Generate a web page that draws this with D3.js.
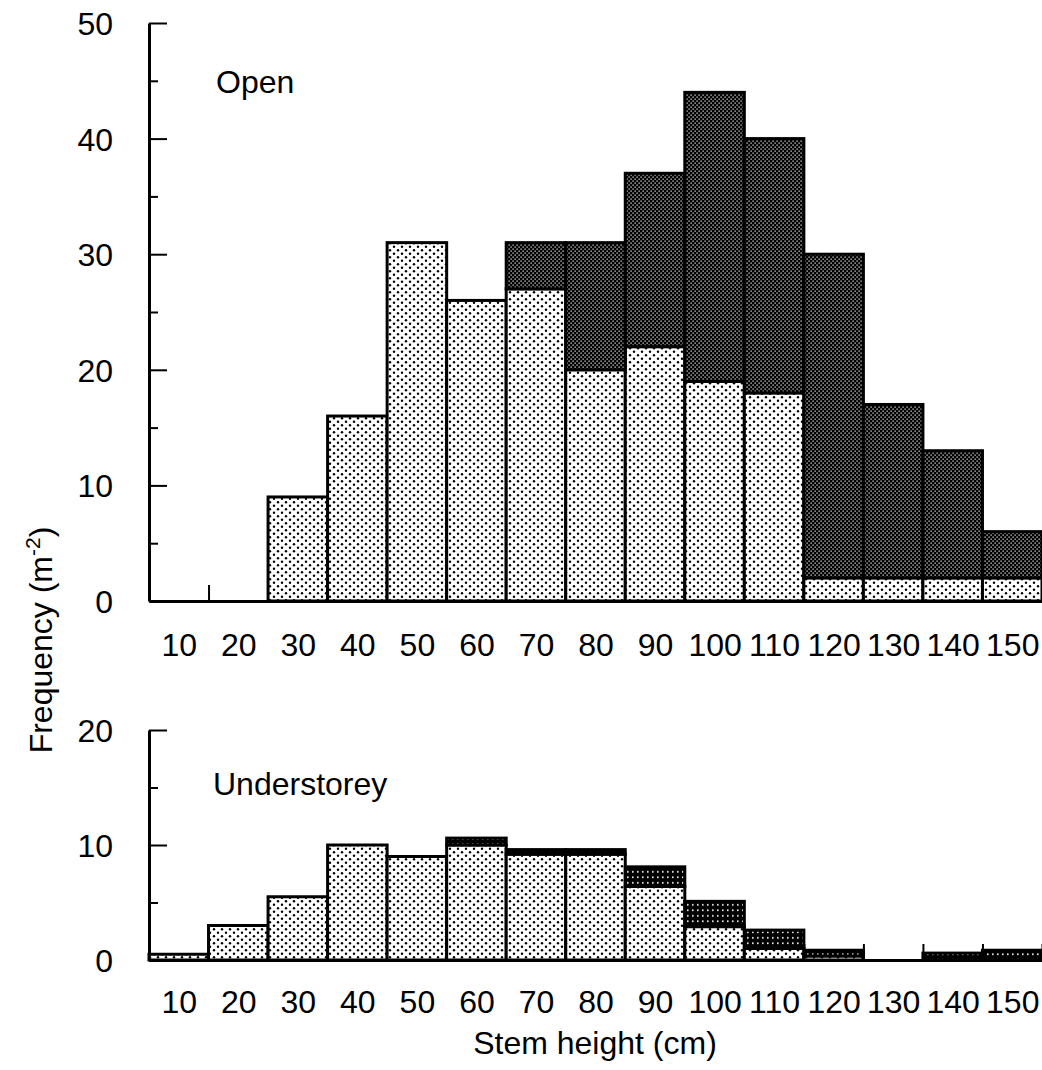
<!DOCTYPE html>
<html>
<head>
<meta charset="utf-8">
<script src="https://cdn.jsdelivr.net/npm/d3@7"></script>
<style>
  body { margin: 0; background: #fff; }
  svg { display: block; font-family: "Liberation Sans", Arial, sans-serif; }
</style>
</head>
<body>
<svg id="chart" width="1042" height="1070"></svg>
<script>
// bin centres (cm)
const bins = [10, 20, 30, 40, 50, 60, 70, 80, 90, 100, 110, 120, 130, 140, 150];

// Open: lower (light) part and total height of each stacked bar
const openLight = [0, 0, 9, 16, 31, 26, 27, 20, 22, 19, 18, 2, 2, 2, 2];
const openTotal = [0, 0, 9, 16, 31, 26, 31, 31, 37, 44, 40, 30, 17, 13, 6];

// Understorey
const underLight = [0.5, 3, 5.5, 10, 9, 10, 9.2, 9.2, 6.4, 2.9, 1, 0.35, 0, 0, 0];
const underTotal = [0.5, 3, 5.5, 10, 9, 10.6, 9.6, 9.6, 8.1, 5.1, 2.6, 0.85, 0, 0.6, 0.85];

const openTicks = [0, 10, 20, 30, 40, 50];
const openMinor = [5, 15, 25, 35, 45];
const underTicks = [0, 10, 20];
const underMinor = [5, 15];

const svg = d3.select("#chart");
const defs = svg.append("defs");

// white with black dots
const light = defs.append("pattern").attr("id", "light")
  .attr("patternUnits", "userSpaceOnUse").attr("width", 8).attr("height", 7);
light.append("rect").attr("width", 8).attr("height", 7).attr("fill", "#fff");
light.append("circle").attr("cx", 2).attr("cy", 1.75).attr("r", 1.2).attr("fill", "#000");
light.append("circle").attr("cx", 6).attr("cy", 5.25).attr("r", 1.2).attr("fill", "#000");

// black with fine white dots (open)
const dark = defs.append("pattern").attr("id", "dark")
  .attr("patternUnits", "userSpaceOnUse").attr("width", 4).attr("height", 4);
dark.append("rect").attr("width", 4).attr("height", 4).attr("fill", "#000");
dark.append("rect").attr("x", 0.5).attr("y", 0.5).attr("width", 1.2).attr("height", 1.2).attr("fill", "#fff");
dark.append("rect").attr("x", 2.5).attr("y", 2.5).attr("width", 1.2).attr("height", 1.2).attr("fill", "#fff");

// black with white dot grid (understorey)
const grid = defs.append("pattern").attr("id", "grid")
  .attr("patternUnits", "userSpaceOnUse").attr("width", 5).attr("height", 5.5);
grid.append("rect").attr("width", 5).attr("height", 5.5).attr("fill", "#000");
grid.append("rect").attr("x", 2).attr("y", 2).attr("width", 1.6).attr("height", 1.6).attr("fill", "#fff");

const x = d3.scaleLinear().domain([5, 155]).range([149, 1042]);
const edges = bins.map((b) => b + 5);
const FS = 32;

function panel(cfg) {
  const y = d3.scaleLinear().domain(cfg.domain).range(cfg.range);
  const g = svg.append("g");

  // minor ticks
  g.append("g").attr("transform", `translate(${x(5)},0)`)
    .call(d3.axisLeft(y).tickValues(cfg.minor).tickSize(-9).tickSizeOuter(0).tickFormat(""))
    .call((a) => a.select(".domain").remove())
    .selectAll("line").attr("stroke-width", 2);

  // major ticks + labels
  const ya = g.append("g").attr("transform", `translate(${x(5)},0)`)
    .call(d3.axisLeft(y).tickValues(cfg.ticks).tickSize(-18).tickSizeOuter(0).tickPadding(36));
  ya.select(".domain").attr("stroke-width", 3);
  ya.selectAll("line").attr("stroke-width", 2);
  ya.selectAll("text").attr("font-size", FS).attr("font-family", "Liberation Sans, Arial, sans-serif")
    .attr("dy", "0.36em").attr("fill", "#000");

  // bin edge ticks on x axis
  const xa = g.append("g").attr("transform", `translate(0,${y(0)})`)
    .call(d3.axisTop(x).tickValues(edges).tickSize(16).tickSizeOuter(0).tickFormat(""));
  xa.select(".domain").attr("stroke-width", 3);
  xa.selectAll("line").attr("stroke-width", 2);

  // x labels
  const xl = g.append("g").attr("transform", `translate(0,${y(0)})`)
    .call(d3.axisBottom(x).tickValues(bins).tickSize(0).tickPadding(cfg.labelPad));
  xl.select(".domain").remove();
  xl.selectAll("text").attr("font-size", FS).attr("font-family", "Liberation Sans, Arial, sans-serif")
    .attr("dy", "0.71em").attr("fill", "#000");

  // bars
  const bars = g.append("g").attr("stroke", "#000").attr("stroke-width", 3);
  const rows = bins.map((b, i) => ({ b, lo: cfg.light[i], hi: cfg.total[i] }));
  bars.selectAll("rect.lo").data(rows.filter((d) => d.lo > 0)).join("rect")
    .attr("class", "lo")
    .attr("x", (d) => x(d.b - 5)).attr("width", (d) => x(d.b + 5) - x(d.b - 5))
    .attr("y", (d) => y(d.lo)).attr("height", (d) => y(0) - y(d.lo))
    .attr("fill", "url(#light)");
  bars.selectAll("rect.hi").data(rows.filter((d) => d.hi > d.lo)).join("rect")
    .attr("class", "hi")
    .attr("x", (d) => x(d.b - 5)).attr("width", (d) => x(d.b + 5) - x(d.b - 5))
    .attr("y", (d) => y(d.hi)).attr("height", (d) => y(d.lo) - y(d.hi))
    .attr("fill", cfg.darkFill);

  g.append("text").attr("x", cfg.titleX).attr("y", cfg.titleY)
    .attr("font-size", FS).text(cfg.title);
}

panel({
  domain: [0, 50], range: [601, 23], ticks: openTicks, minor: openMinor,
  light: openLight, total: openTotal, darkFill: "url(#dark)",
  title: "Open", titleX: 216, titleY: 93, labelPad: 32
});

panel({
  domain: [0, 20], range: [960, 730], ticks: underTicks, minor: underMinor,
  light: underLight, total: underTotal, darkFill: "url(#grid)",
  title: "Understorey", titleX: 213, titleY: 795, labelPad: 30
});

// axis titles
svg.append("text").attr("x", 595).attr("y", 1054).attr("text-anchor", "middle")
  .attr("font-size", FS).text("Stem height (cm)");

const yl = svg.append("text").attr("transform", "translate(52,640) rotate(-90)")
  .attr("text-anchor", "middle").attr("font-size", FS);
yl.append("tspan").text("Frequency (m");
yl.append("tspan").attr("font-size", 21).attr("dy", -12).text("-2");
yl.append("tspan").attr("dy", 12).text(")");
</script>
</body>
</html>
